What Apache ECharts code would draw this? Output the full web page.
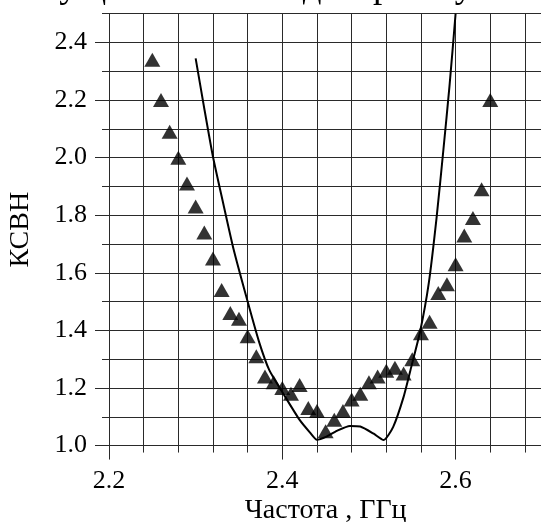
<!DOCTYPE html>
<html>
<head>
<meta charset="utf-8">
<script src="https://cdn.jsdelivr.net/npm/echarts@6/dist/echarts.min.js"></script>
<style>
  html, body { margin: 0; padding: 0; background: #fff; }
  #chart { width: 541px; height: 522px; }
</style>
</head>
<body>
<div id="chart"></div>
<script>
// measured points (triangles)
const markerFreq = [2.25, 2.26, 2.27, 2.28, 2.29, 2.30, 2.31, 2.32, 2.33, 2.34,
  2.35, 2.36, 2.37, 2.38, 2.39, 2.40, 2.41, 2.42, 2.43, 2.44,
  2.45, 2.46, 2.47, 2.48, 2.49, 2.50, 2.51, 2.52, 2.53, 2.54,
  2.55, 2.56, 2.57, 2.58, 2.59, 2.60, 2.61, 2.62, 2.63, 2.64];
const markerVswr = [2.34, 2.20, 2.09, 2.00, 1.91, 1.83, 1.74, 1.65, 1.54, 1.46,
  1.44, 1.38, 1.31, 1.24, 1.22, 1.20, 1.18, 1.21, 1.13, 1.12,
  1.05, 1.09, 1.12, 1.16, 1.18, 1.22, 1.24, 1.26, 1.27, 1.25,
  1.30, 1.39, 1.43, 1.53, 1.56, 1.63, 1.73, 1.79, 1.89, 2.20];

// calculated curve
const curveFreq = [2.300, 2.310, 2.320, 2.331, 2.344, 2.360, 2.373, 2.385, 2.401, 2.420,
  2.432, 2.440, 2.451, 2.463, 2.478, 2.490, 2.505, 2.517, 2.528, 2.540,
  2.549, 2.559, 2.569, 2.578, 2.586, 2.593, 2.600];
const curveVswr = [2.345, 2.170, 2.003, 1.852, 1.679, 1.500, 1.362, 1.262, 1.181, 1.089,
  1.045, 1.020, 1.031, 1.051, 1.068, 1.066, 1.042, 1.019, 1.065, 1.169,
  1.275, 1.395, 1.563, 1.790, 2.030, 2.250, 2.500];

const xMin = 2.2, xMax = 2.7, yMin = 1.0, yMax = 2.5;
const pxX = 866.5, pxY = 287.9;
const gridLeft = 109, gridTop = 13.7;

const gridColor = '#2a2a2a';
const serif = 'Liberation Serif';

const chart = echarts.init(document.getElementById('chart'));

chart.setOption({
  animation: false,
  backgroundColor: '#fff',
  graphic: [{
    type: 'text',
    left: 0,
    top: -31,
    style: { text: 'от существенно на диаграмму нал', font: '37px "Liberation Serif"', fill: '#000' }
  }],
  grid: [
    { left: gridLeft, top: gridTop, width: (xMax - xMin) * pxX, height: (yMax - yMin) * pxY,
      containLabel: false, outerBoundsMode: 'none' },
    { left: gridLeft, top: gridTop + 0.1 * pxY, width: 0.4 * pxX, height: 1.4 * pxY,
      containLabel: false, outerBoundsMode: 'none' }
  ],
  xAxis: [
    {
      type: 'value', gridIndex: 0, min: xMin, max: xMax, interval: 0.04,
      axisLine: { show: false },
      axisTick: { show: true, length: 7, lineStyle: { color: gridColor, width: 1 } },
      axisLabel: { show: false },
      splitLine: { show: true, lineStyle: { color: gridColor, width: 1 } },
      name: 'Частота , ГГц', nameLocation: 'middle', nameGap: 51,
      nameTextStyle: { fontFamily: serif, fontSize: 28, color: '#000' }
    },
    {
      type: 'value', gridIndex: 1, min: 2.2, max: 2.6, interval: 0.2,
      axisLine: { show: false },
      axisTick: { show: true, length: 14, lineStyle: { color: gridColor, width: 1 } },
      axisLabel: { margin: 23, fontFamily: serif, fontSize: 26, color: '#000',
        formatter: v => v.toFixed(1) },
      splitLine: { show: false }
    }
  ],
  yAxis: [
    {
      type: 'value', gridIndex: 0, min: yMin, max: yMax, interval: 0.1,
      axisLine: { show: false },
      axisTick: { show: true, length: 7, lineStyle: { color: gridColor, width: 1 } },
      axisLabel: { show: false },
      splitLine: { show: true, lineStyle: { color: gridColor, width: 1 } },
      name: 'КСВН', nameLocation: 'middle', nameGap: 74, nameRotate: 90,
      nameTextStyle: { fontFamily: serif, fontSize: 28, color: '#000' }
    },
    {
      type: 'value', gridIndex: 1, min: 1.0, max: 2.4, interval: 0.2,
      axisLine: { show: false },
      axisTick: { show: true, length: 14, lineStyle: { color: gridColor, width: 1 } },
      axisLabel: { margin: 22, fontFamily: serif, fontSize: 26, color: '#000',
        formatter: v => v.toFixed(1) },
      splitLine: { show: false }
    }
  ],
  series: [
    {
      type: 'line', xAxisIndex: 0, yAxisIndex: 0,
      data: curveFreq.map((f, i) => [f, curveVswr[i]]),
      showSymbol: false, smooth: 0.2,
      lineStyle: { color: '#000', width: 2 },
      z: 3
    },
    {
      type: 'scatter', xAxisIndex: 0, yAxisIndex: 0,
      data: markerFreq.map((f, i) => [f, markerVswr[i]]),
      symbol: 'triangle', symbolSize: [16, 14],
      itemStyle: { color: '#000' },
      z: 4
    }
  ]
});
</script>
</body>
</html>
